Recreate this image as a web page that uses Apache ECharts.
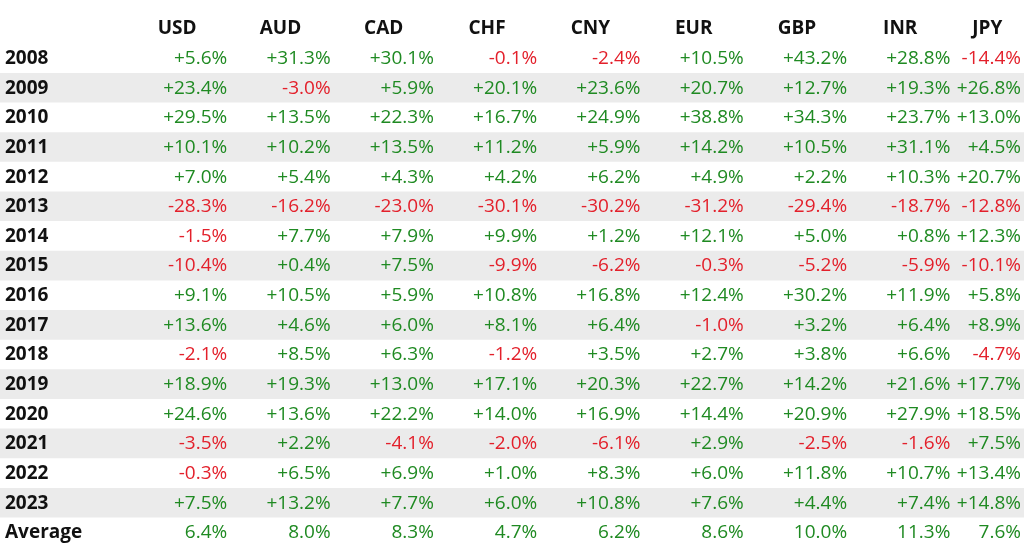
<!DOCTYPE html>
<html><head><meta charset="utf-8">
<script src="https://cdn.jsdelivr.net/npm/echarts@6/dist/echarts.min.js"></script>
<style>html,body{margin:0;padding:0;background:#fff}#c{width:1024px;height:556px}</style>
</head><body><div id="c"></div>
<script>
const currencies = ['USD','AUD','CAD','CHF','CNY','EUR','GBP','INR','JPY'];
const years = ['2008','2009','2010','2011','2012','2013','2014','2015','2016','2017','2018','2019','2020','2021','2022','2023'];
const averageLabel = 'Average';
const usd = [5.6,23.4,29.5,10.1,7.0,-28.3,-1.5,-10.4,9.1,13.6,-2.1,18.9,24.6,-3.5,-0.3,7.5];
const aud = [31.3,-3.0,13.5,10.2,5.4,-16.2,7.7,0.4,10.5,4.6,8.5,19.3,13.6,2.2,6.5,13.2];
const cad = [30.1,5.9,22.3,13.5,4.3,-23.0,7.9,7.5,5.9,6.0,6.3,13.0,22.2,-4.1,6.9,7.7];
const chf = [-0.1,20.1,16.7,11.2,4.2,-30.1,9.9,-9.9,10.8,8.1,-1.2,17.1,14.0,-2.0,1.0,6.0];
const cny = [-2.4,23.6,24.9,5.9,6.2,-30.2,1.2,-6.2,16.8,6.4,3.5,20.3,16.9,-6.1,8.3,10.8];
const eur = [10.5,20.7,38.8,14.2,4.9,-31.2,12.1,-0.3,12.4,-1.0,2.7,22.7,14.4,2.9,6.0,7.6];
const gbp = [43.2,12.7,34.3,10.5,2.2,-29.4,5.0,-5.2,30.2,3.2,3.8,14.2,20.9,-2.5,11.8,4.4];
const inr = [28.8,19.3,23.7,31.1,10.3,-18.7,0.8,-5.9,11.9,6.4,6.6,21.6,27.9,-1.6,10.7,7.4];
const jpy = [-14.4,26.8,13.0,4.5,20.7,-12.8,12.3,-10.1,5.8,8.9,-4.7,17.7,18.5,7.5,13.4,14.8];
const averages = [6.4,8.0,8.3,4.7,6.2,8.6,10.0,11.3,7.6];

const columns = [usd,aud,cad,chf,cny,eur,gbp,inr,jpy];
const rowLabels = [''].concat(years, [averageLabel]);

const GREEN = '#1f8a22', RED = '#e3202b', INK = '#111111', BAND = '#ebebeb';
const FONT_FAMILY = '"Open Sans", sans-serif';
const VAL_FONT = '19px ' + FONT_FAMILY;
const LAB_FONT = 'bold 19px ' + FONT_FAMILY;
const COL_W = 103.3, FIRST_EDGE = 127;
const X_MIN = -FIRST_EDGE / COL_W, X_MAX = (1024 - FIRST_EDGE) / COL_W;

const cellData = [];
columns.forEach((arr, c) => arr.forEach((v, r) => cellData.push([c, r + 1, v, 'year'])));
averages.forEach((v, c) => cellData.push([c, years.length + 1, v, 'avg']));
const headerData = currencies.map((name, c) => [c, 0, name]);
const rowLabelData = rowLabels.map((name, r) => [X_MIN, r, name]).filter(d => d[2] !== '');
const bandData = years.map((y, i) => [0, i + 1]).filter((d, i) => i % 2 === 1);

function fmt(v, kind) {
  const s = Math.abs(v).toFixed(1) + '%';
  if (kind === 'avg') return (v < 0 ? '-' : '') + s;
  return (v > 0 ? '+' : v < 0 ? '-' : '') + s;
}

const chart = echarts.init(document.getElementById('c'), null, {renderer: 'canvas'});
chart.setOption({
  animation: false,
  grid: {left: 0, right: 0, top: 13.6, bottom: 8.8},
  xAxis: {type: 'value', min: X_MIN, max: X_MAX, show: false},
  yAxis: {type: 'category', data: rowLabels, inverse: true, show: false},
  series: [
    {
      type: 'custom', data: bandData, silent: true,
      renderItem: (params, api) => {
        const cs = params.coordSys;
        const y = api.coord([0, api.value(1)])[1];
        const h = api.size([0, 1])[1];
        return {type: 'rect', shape: {x: cs.x, y: y - h / 2, width: cs.width, height: h}, style: {fill: BAND}};
      }
    },
    {
      type: 'custom', data: cellData, silent: true,
      renderItem: (params, api) => {
        const c = api.value(0), r = api.value(1), v = api.value(2);
        const kind = cellData[params.dataIndex][3];
        const right = Math.min(c + 1, X_MAX);
        const p = api.coord([right, r]);
        return {type: 'text', style: {text: fmt(v, kind), x: p[0] - 3, y: p[1] + 0.5, align: 'right', verticalAlign: 'middle',
          fill: v < 0 ? RED : GREEN, font: VAL_FONT}};
      }
    },
    {
      type: 'custom', data: headerData, silent: true,
      renderItem: (params, api) => {
        const c = api.value(0), r = api.value(1);
        const x0 = api.coord([c, r])[0], x1 = api.coord([Math.min(c + 1, X_MAX), r])[0];
        const y = api.coord([c, r])[1];
        return {type: 'text', style: {text: headerData[params.dataIndex][2], x: (x0 + x1) / 2 - 1.5, y: y + 0.5, align: 'center', verticalAlign: 'middle',
          fill: INK, font: LAB_FONT}};
      }
    },
    {
      type: 'custom', data: rowLabelData, silent: true,
      renderItem: (params, api) => {
        const p = api.coord([api.value(0), api.value(1)]);
        return {type: 'text', style: {text: rowLabelData[params.dataIndex][2], x: p[0] + 5, y: p[1] + 0.5, align: 'left', verticalAlign: 'middle',
          fill: INK, font: LAB_FONT}};
      }
    }
  ]
});
</script></body></html>
